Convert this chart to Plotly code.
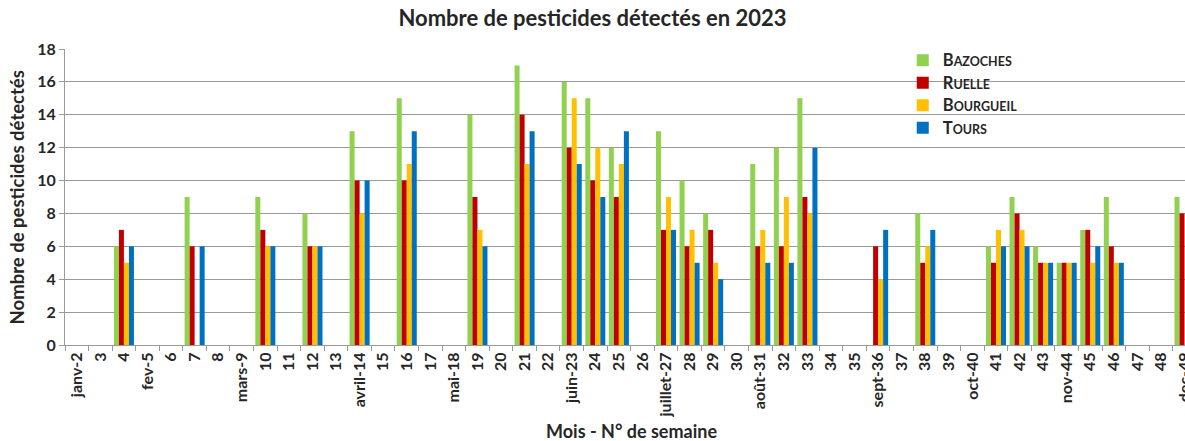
import plotly.graph_objects as go

categories = ["janv-2", "3", "4", "fev-5", "6", "7", "8", "mars-9", "10", "11", "12", "13",
              "avril-14", "15", "16", "17", "mai-18", "19", "20", "21", "22", "juin-23", "24", "25",
              "26", "juillet-27", "28", "29", "30", "août-31", "32", "33", "34", "35", "sept-36", "37",
              "38", "39", "oct-40", "41", "42", "43", "nov-44", "45", "46", "47", "48", "dec-49"]

N = None
bazoches = [N, N, 6, N, N, 9, N, N, 9, N, 8, N,
            13, N, 15, N, N, 14, N, 17, N, 16, 15, 12,
            N, 13, 10, 8, N, 11, 12, 15, N, N, N, N,
            8, N, N, 6, 9, 6, 5, 7, 9, N, N, 9]
ruelle = [N, N, 7, N, N, 6, N, N, 7, N, 6, N,
          10, N, 10, N, N, 9, N, 14, N, 12, 10, 9,
          N, 7, 6, 7, N, 6, 6, 9, N, N, 6, N,
          5, N, N, 5, 8, 5, 5, 7, 6, N, N, 8]
bourgueil = [N, N, 5, N, N, N, N, N, 6, N, 6, N,
             8, N, 11, N, N, 7, N, 11, N, 15, 12, 11,
             N, 9, 7, 5, N, 7, 9, 8, N, N, 4, N,
             6, N, N, 7, 7, 5, 5, 5, 5, N, N, N]
tours = [N, N, 6, N, N, 6, N, N, 6, N, 6, N,
         10, N, 13, N, N, 6, N, 13, N, 11, 9, 13,
         N, 7, 5, 4, N, 5, 5, 12, N, N, 7, N,
         7, N, N, 6, 6, 5, 5, 6, 5, N, N, N]

series_names = ["Bazoches", "Ruelle", "Bourgueil", "Tours"]
legend_labels = [
    "<span style='font-size:16.5px'>B</span><span style='font-size:12.5px'>AZOCHES</span>",
    "<span style='font-size:16.5px'>R</span><span style='font-size:12.5px'>UELLE</span>",
    "<span style='font-size:16.5px'>B</span><span style='font-size:12.5px'>OURGUEIL</span>",
    "<span style='font-size:16.5px'>T</span><span style='font-size:12.5px'>OURS</span>",
]
colors = ["#92D050", "#C00000", "#FFC000", "#0070C0"]
values = [bazoches, ruelle, bourgueil, tours]

FONT = "Lato, 'Open Sans', sans-serif"
TXT = "#262626"

fig = go.Figure()
for name, lab, col, vals in zip(series_names, legend_labels, colors, values):
    fig.add_trace(go.Bar(x=categories, y=vals, name=lab, marker_color=col,
                         marker_line_width=0, legendgroup=name))

fig.update_layout(
    width=1185, height=441,
    margin=dict(l=65, r=0, t=49, b=96, autoexpand=False),
    paper_bgcolor="white", plot_bgcolor="white",
    barmode="group", bargap=0.15, bargroupgap=0,
    font=dict(family=FONT, color=TXT),
    title=dict(text="<b>Nombre de pesticides détectés en 2023</b>", x=0.5, xanchor="center",
               y=0.959, yanchor="middle", font=dict(size=22, family=FONT, color=TXT)),
    legend=dict(x=0.748, xanchor="left", y=1.017, yanchor="top", bgcolor="rgba(0,0,0,0)",
                font=dict(size=15, family=FONT, color=TXT, weight="bold"),
                tracegroupgap=0, itemwidth=30),
    showlegend=True,
)

fig.update_xaxes(
    type="category", categoryorder="array", categoryarray=categories,
    range=[-0.5, 47.02], tickangle=-90, automargin=False,
    tickfont=dict(size=16, family=FONT, color=TXT, weight="bold"),
    showline=True, linecolor="#9a9a9a", linewidth=1,
    ticks="outside", tickson="boundaries", ticklen=5, tickcolor="#9a9a9a",
    showgrid=False, zeroline=False,
)
fig.update_yaxes(
    range=[0, 18], dtick=2, tick0=0, automargin=False,
    tickfont=dict(size=16, family=FONT, color=TXT, weight="bold"),
    showline=True, linecolor="#9a9a9a", linewidth=1,
    ticks="outside", ticklen=5, tickcolor="#9a9a9a",
    showgrid=True, gridcolor="#9a9a9a", gridwidth=1, zeroline=False,
)

fig.add_annotation(text="<b>Nombre de pesticides détectés</b>", xref="paper", yref="paper",
                   x=-0.0425, y=0.5, textangle=-90, showarrow=False,
                   xanchor="center", yanchor="middle",
                   font=dict(size=18.5, family=FONT, color=TXT))
fig.add_annotation(text="<b>Mois - N° de semaine</b>", xref="paper", yref="paper",
                   x=0.506, y=-0.292, showarrow=False,
                   xanchor="center", yanchor="middle",
                   font=dict(size=18, family=FONT, color=TXT))

fig.write_html("out.html", config={"displayModeBar": False},
               post_script="document.body.style.margin='0';")
